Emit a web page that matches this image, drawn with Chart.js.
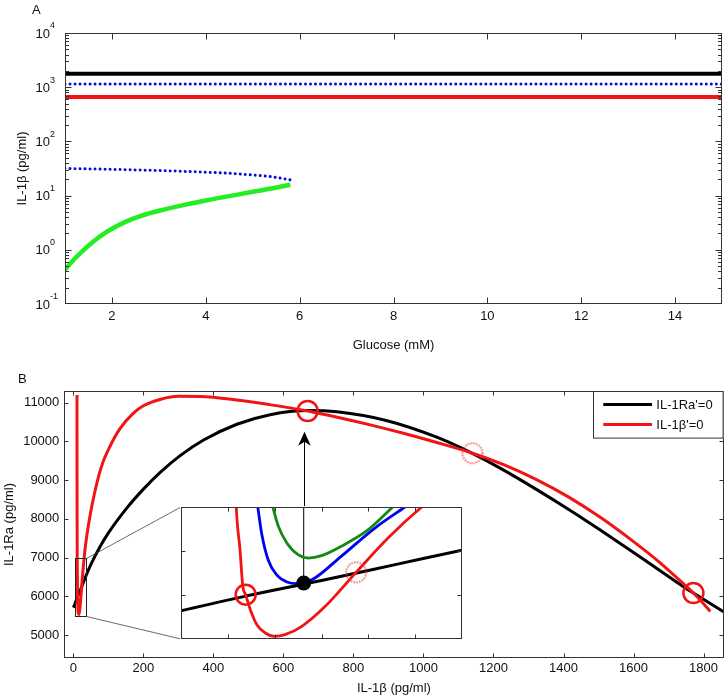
<!DOCTYPE html>
<html>
<head>
<meta charset="utf-8">
<script src="https://cdn.jsdelivr.net/npm/chart.js@4.4.1/dist/chart.umd.min.js"></script>
<style>
html,body{margin:0;padding:0;background:#fff;}
#page{position:relative;width:728px;height:700px;overflow:hidden;background:#fff;font-family:"Liberation Sans",Arial,sans-serif;}
#page canvas{position:absolute;}
.panel-letter{position:absolute;font-size:13px;color:#111;line-height:1;}
</style>
</head>
<body>
<div id="page">
  <canvas id="chartA" width="728" height="365" style="left:0;top:0;"></canvas>
  <canvas id="chartB" width="728" height="335" style="left:0;top:365px;"></canvas>
  <canvas id="chartInset" width="283" height="134" style="left:180px;top:506px;"></canvas>
  <div class="panel-letter" style="left:32px;top:3px;">A</div>
  <div class="panel-letter" style="left:18px;top:372px;">B</div>
</div>
<script>
// ================= DATA =================
// Panel A : IL-1beta steady states vs glucose
const glucoseFull   = [1, 15];
const ilbHighBlack  = [1778, 1778];
const ilbHighBlue   = [1140, 1140];
const ilbHighRed    = [660, 660];
const glucoseBlueLow = [1, 2, 3, 4, 4.5, 5, 5.4, 5.8];
const ilbBlueLow     = [31.6, 30.5, 29, 27, 25.8, 24, 22.3, 19.5];
const glucoseGreen   = [1.0, 1.2, 1.4, 1.6, 1.8, 2.0, 2.3, 2.6, 3.0, 3.5, 4.0, 4.5, 5.0, 5.4, 5.8];
const ilbGreen       = [0.427, 0.676, 1.0, 1.41, 1.9, 2.45, 3.31, 4.17, 5.25, 6.61, 8.13, 9.77, 11.75, 13.5, 15.85];
const glucoseTicks   = [2, 4, 6, 8, 10, 12, 14];
const ilbDecades     = [0.1, 1, 10, 100, 1000, 10000];

// Panel B : nullclines
const raNullX = [0, 5, 12, 20, 28.6, 35, 50, 76, 100, 153, 200, 248, 305, 372, 467, 562, 669, 753, 896, 1038, 1138, 1219, 1320, 1415, 1505, 1619, 1748, 1771, 1857];
const raNullY = [5710, 5822, 5990, 6165, 6362, 6508, 6823, 7278, 7638, 8285, 8769, 9201, 9634, 10036, 10444, 10691, 10798, 10764, 10535, 10109, 9699, 9310, 8775, 8243, 7712, 7017, 6217, 6085, 5600];
const ilbNullX = [10.2, 10.4, 10.6, 10.9, 11.3, 11.6, 11.9, 12.4, 13.1, 14.0, 15.0, 16.1, 17.9, 20.4, 23.7, 27.1, 30.7, 35, 45, 60, 80, 100, 133, 170, 200, 250, 300, 362, 467, 560, 669, 760, 848, 940, 1038, 1140, 1229, 1320, 1415, 1505, 1600, 1676, 1748, 1771, 1800, 1819];
const ilbNullY = [11200, 9000, 8000, 7000, 6515, 6098, 6004, 5833, 5663, 5568, 5530, 5549, 5644, 5871, 6258, 6648, 7000, 7350, 7950, 8650, 9350, 9790, 10330, 10720, 10920, 11090, 11165, 11160, 11070, 10950, 10786, 10613, 10428, 10216, 9971, 9696, 9400, 9027, 8562, 8040, 7413, 6866, 6280, 6085, 5810, 5610];
const stableX   = [669, 1771];
const stableY   = [10786, 6085];
const unstableX = [1140];
const unstableY = [9696];
const ilbTicksB = [0, 200, 400, 600, 800, 1000, 1200, 1400, 1600, 1800];
const raTicksB  = [5000, 6000, 7000, 8000, 9000, 10000, 11000];
const arrowX     = [660];
const arrowFromY = [6333];
const arrowToY   = [10250];

// Inset (zoom of the small box)
const zoomBoxX = [5, 35];
const zoomBoxY = [5500, 7000];
const insetTicksX = [10, 15, 20, 25, 30];
const insetTicksY = [6000, 6500];
const blueX  = [13.2, 13.6, 14.3, 15.2, 16.4, 17.3, 18.1, 19.3, 22.1, 25.7, 28.9];
const blueY  = [7000, 6705, 6401, 6231, 6144, 6129, 6136, 6193, 6439, 6761, 7000];
const greenX = [14.8, 15.4, 16.3, 17.5, 18.6, 20.0, 22.1, 25.0, 27.6];
const greenY = [7000, 6780, 6591, 6458, 6420, 6447, 6553, 6742, 7000];
const insetStableX   = [11.9];
const insetStableY   = [6004];
const insetUnstableX = [23.7];
const insetUnstableY = [6258];
const saddleNodeX = [18.1];
const saddleNodeY = [6136];

// ================= STYLE =================
const FONT = '"Liberation Sans", Arial, Helvetica, sans-serif';
const TXT = '#111';
const AXIS = '#333';
const RED = '#f01414';
const INSET_BOX = {left: 181, top: 507, width: 281, height: 132};
const CANVAS_B_TOP = 365;

function pts(xs, ys) { return xs.map((x, i) => ({x: x, y: ys[i]})); }

function dashedCircle(r) {
  const c = document.createElement('canvas');
  const s = 2 * r + 6;
  c.width = s; c.height = s;
  const g = c.getContext('2d');
  g.strokeStyle = 'rgba(232,60,60,0.8)';
  g.lineWidth = 2;
  g.setLineDash([1.4, 1.4]);
  g.beginPath(); g.arc(s / 2, s / 2, r, 0, Math.PI * 2); g.stroke();
  return c;
}

function drawFrame(chart, cfg) {
  const ctx = chart.ctx, a = chart.chartArea;
  const xs = chart.scales.x, ys = chart.scales.y;
  const L = Math.round(a.left) + 0.5, R = Math.round(a.right) - 0.5;
  const T = Math.round(a.top) + 0.5, B = Math.round(a.bottom) - 0.5;
  ctx.save();
  ctx.strokeStyle = AXIS; ctx.lineWidth = 1;
  ctx.beginPath();
  cfg.xMajor.forEach(v => {
    const p = Math.round(xs.getPixelForValue(v)) + 0.5;
    if (p <= L + 0.5 || p >= R - 0.5) return;
    ctx.moveTo(p, B); ctx.lineTo(p, B - cfg.len);
    ctx.moveTo(p, T); ctx.lineTo(p, T + cfg.len);
  });
  cfg.yMajor.forEach(v => {
    const p = Math.round(ys.getPixelForValue(v)) + 0.5;
    if (p <= T + 0.5 || p >= B - 0.5) return;
    ctx.moveTo(L, p); ctx.lineTo(L + cfg.len, p);
    ctx.moveTo(R, p); ctx.lineTo(R - cfg.len, p);
  });
  (cfg.yMinor || []).forEach(v => {
    const p = Math.round(ys.getPixelForValue(v)) + 0.5;
    if (p <= T + 0.5 || p >= B - 0.5) return;
    ctx.moveTo(L, p); ctx.lineTo(L + cfg.minorLen, p);
    ctx.moveTo(R, p); ctx.lineTo(R - cfg.minorLen, p);
  });
  ctx.stroke();
  ctx.strokeRect(L, T, R - L, B - T);
  ctx.restore();
}

const baseFont = {family: FONT, size: 13};

// ================= PANEL A =================
const logMinor = [];
ilbDecades.slice(0, -1).forEach(d => { for (let m = 2; m <= 9; m++) logMinor.push(m * d); });

const frameA = {
  id: 'frameA',
  afterDraw(chart) {
    drawFrame(chart, {xMajor: glucoseTicks, yMajor: ilbDecades, yMinor: logMinor, len: 6, minorLen: 3.5});
    const ctx = chart.ctx, a = chart.chartArea, y = chart.scales.y;
    ctx.save();
    ctx.fillStyle = TXT; ctx.textBaseline = 'middle';
    ilbDecades.forEach(v => {
      const p = y.getPixelForValue(v);
      const e = Math.round(Math.log10(v));
      ctx.font = '13px ' + FONT; ctx.textAlign = 'right';
      ctx.fillText('10', a.left - 15, p + 1);
      ctx.font = '9px ' + FONT; ctx.textAlign = 'left';
      ctx.fillText(String(e), a.left - 15, p - 7);
    });
    ctx.restore();
  }
};

new Chart(document.getElementById('chartA'), {
  type: 'scatter',
  data: {
    datasets: [
      {data: pts(glucoseFull, ilbHighBlack), showLine: true, borderColor: '#000', borderWidth: 4, pointRadius: 0},
      {data: pts(glucoseFull, ilbHighBlue), showLine: true, borderColor: '#0a0ad0', borderWidth: 3, borderDash: [0.01, 5], borderCapStyle: 'round', pointRadius: 0},
      {data: pts(glucoseFull, ilbHighRed), showLine: true, borderColor: RED, borderWidth: 4, pointRadius: 0},
      {data: pts(glucoseBlueLow, ilbBlueLow), showLine: true, borderColor: '#0a0ad0', borderWidth: 3, borderDash: [0.01, 5], borderCapStyle: 'round', pointRadius: 0, cubicInterpolationMode: 'monotone'},
      {data: pts(glucoseGreen, ilbGreen), showLine: true, borderColor: '#22ee22', borderWidth: 4.5, pointRadius: 0, cubicInterpolationMode: 'monotone'}
    ]
  },
  options: {
    responsive: false, animation: false, devicePixelRatio: 1,
    layout: {padding: {top: 33, right: 6, left: 0, bottom: 0}, autoPadding: false},
    plugins: {legend: {display: false}, tooltip: {enabled: false}},
    scales: {
      x: {
        type: 'linear', min: 1, max: 15,
        afterBuildTicks: s => { s.ticks = glucoseTicks.map(v => ({value: v})); },
        grid: {display: false, drawTicks: false}, border: {display: false},
        ticks: {padding: 5, font: baseFont, color: TXT, maxRotation: 0, autoSkip: false, callback: v => String(v)},
        title: {display: true, text: 'Glucose (mM)', font: baseFont, color: TXT, padding: {top: 0, bottom: 12}},
        afterFit: s => { s.height = 61; }
      },
      y: {
        type: 'logarithmic', min: 0.1, max: 10000,
        afterBuildTicks: s => { s.ticks = ilbDecades.map(v => ({value: v})); },
        grid: {display: false, drawTicks: false}, border: {display: false},
        ticks: {display: false},
        title: {display: true, text: 'IL-1β (pg/ml)', font: baseFont, color: TXT, padding: {top: 14.5, bottom: 0}},
        afterFit: s => { s.width = 65; }
      }
    }
  },
  plugins: [frameA]
});

// ================= PANEL B =================
const frameB = {
  id: 'frameB',
  afterDatasetsDraw(chart) {
    const ctx = chart.ctx, x = chart.scales.x, y = chart.scales.y;
    ctx.save();
    // zoom box
    const bx0 = x.getPixelForValue(zoomBoxX[0]), bx1 = x.getPixelForValue(zoomBoxX[1]);
    const by0 = y.getPixelForValue(zoomBoxY[1]), by1 = y.getPixelForValue(zoomBoxY[0]);
    ctx.strokeStyle = '#222'; ctx.lineWidth = 1;
    ctx.strokeRect(Math.round(bx0) + 0.5, Math.round(by0) + 0.5, Math.round(bx1 - bx0), Math.round(by1 - by0));
    // connector lines to inset
    ctx.strokeStyle = '#444'; ctx.lineWidth = 0.8;
    ctx.beginPath();
    ctx.moveTo(Math.round(bx1) + 0.5, Math.round(by0) + 0.5); ctx.lineTo(INSET_BOX.left, INSET_BOX.top - CANVAS_B_TOP);
    ctx.moveTo(Math.round(bx1) + 0.5, Math.round(by1) + 0.5); ctx.lineTo(INSET_BOX.left, INSET_BOX.top + INSET_BOX.height - CANVAS_B_TOP);
    ctx.stroke();
    // arrow
    const ax = Math.round(x.getPixelForValue(arrowX[0])) + 0.5;
    const tip = y.getPixelForValue(arrowToY[0]);
    const from = y.getPixelForValue(arrowFromY[0]);
    ctx.strokeStyle = '#000'; ctx.lineWidth = 1;
    ctx.beginPath(); ctx.moveTo(ax, from); ctx.lineTo(ax, tip + 8); ctx.stroke();
    ctx.fillStyle = '#000';
    ctx.beginPath();
    ctx.moveTo(ax, tip); ctx.lineTo(ax - 6.3, tip + 14); ctx.lineTo(ax, tip + 10); ctx.lineTo(ax + 6.3, tip + 14);
    ctx.closePath(); ctx.fill();
    ctx.restore();
  },
  afterDraw(chart) {
    drawFrame(chart, {xMajor: ilbTicksB, yMajor: raTicksB, len: 4});
    // legend
    const ctx = chart.ctx, a = chart.chartArea;
    const w = 130.6, h = 47.6;
    const x0 = Math.round(a.right - w), y0 = Math.round(a.top);
    ctx.save();
    ctx.fillStyle = '#fff'; ctx.fillRect(x0, y0, w, h);
    ctx.strokeStyle = AXIS; ctx.lineWidth = 1;
    ctx.strokeRect(x0 + 0.5, y0 + 0.5, w - 1, h - 1);
    const ds = chart.data.datasets;
    [0, 1].forEach((k, i) => {
      const yy = y0 + 13.6 + i * 20;
      ctx.strokeStyle = ds[k].borderColor; ctx.lineWidth = 3;
      ctx.beginPath(); ctx.moveTo(x0 + 10.3, yy); ctx.lineTo(x0 + 59, yy); ctx.stroke();
      ctx.fillStyle = TXT; ctx.font = '13px ' + FONT; ctx.textBaseline = 'middle'; ctx.textAlign = 'left';
      ctx.fillText(ds[k].label, x0 + 63.3, yy + 0.5);
    });
    ctx.restore();
  }
};

const dashedImg = dashedCircle(10);

new Chart(document.getElementById('chartB'), {
  type: 'scatter',
  data: {
    datasets: [
      {label: "IL-1Ra'=0", data: pts(raNullX, raNullY), showLine: true, borderColor: '#000', borderWidth: 3, pointRadius: 0, order: 2, cubicInterpolationMode: 'monotone'},
      {label: "IL-1β'=0", data: pts(ilbNullX, ilbNullY), showLine: true, borderColor: RED, borderWidth: 3, pointRadius: 0, order: 1, cubicInterpolationMode: 'monotone'},
      {label: 'stable', data: pts(stableX, stableY), showLine: false, pointStyle: 'circle', pointRadius: 10, borderColor: RED, borderWidth: 2.5, backgroundColor: 'rgba(0,0,0,0)', order: 0},
      {label: 'unstable', data: pts(unstableX, unstableY), showLine: false, pointStyle: dashedImg, pointRadius: 10, order: 0}
    ]
  },
  options: {
    responsive: false, animation: false, devicePixelRatio: 1,
    layout: {padding: {top: 25.7, right: 4.5, left: 0, bottom: 0}, autoPadding: false},
    plugins: {legend: {display: false}, tooltip: {enabled: false}},
    scales: {
      x: {
        type: 'linear', min: -26, max: 1857,
        afterBuildTicks: s => { s.ticks = ilbTicksB.map(v => ({value: v})); },
        grid: {display: false, drawTicks: false}, border: {display: false},
        ticks: {padding: 2, font: baseFont, color: TXT, maxRotation: 0, autoSkip: false, callback: v => String(v)},
        title: {display: true, text: 'IL-1β (pg/ml)', font: baseFont, color: TXT, padding: {top: 0, bottom: 4}},
        afterFit: s => { s.height = 41.7; }
      },
      y: {
        type: 'linear', min: 4400, max: 11310,
        afterBuildTicks: s => { s.ticks = raTicksB.map(v => ({value: v})); },
        grid: {display: false, drawTicks: false}, border: {display: false},
        ticks: {padding: 5, font: baseFont, color: TXT, autoSkip: false, callback: v => String(v)},
        title: {display: true, text: 'IL-1Ra (pg/ml)', font: baseFont, color: TXT, padding: {top: 1.2, bottom: 0}},
        afterFit: s => { s.width = 64.3; }
      }
    }
  },
  plugins: [frameB]
});

// ================= INSET =================
const insetPlugin = {
  id: 'insetFrame',
  beforeDraw(chart) {
    const ctx = chart.ctx;
    ctx.save(); ctx.fillStyle = '#fff'; ctx.fillRect(0, 0, chart.width, chart.height); ctx.restore();
  },
  afterDraw(chart) {
    drawFrame(chart, {xMajor: insetTicksX, yMajor: insetTicksY, len: 4});
  }
};

new Chart(document.getElementById('chartInset'), {
  type: 'scatter',
  data: {
    datasets: [
      {data: pts([saddleNodeX[0], saddleNodeX[0]], [saddleNodeY[0], zoomBoxY[1]]), showLine: true, borderColor: '#000', borderWidth: 1, pointRadius: 0, order: 6, clip: 0},
      {data: pts(greenX, greenY), showLine: true, borderColor: '#128a12', borderWidth: 2.8, pointRadius: 0, order: 5, clip: 0, cubicInterpolationMode: 'monotone'},
      {data: pts(blueX, blueY), showLine: true, borderColor: '#0000f0', borderWidth: 2.8, pointRadius: 0, order: 4, clip: 0, cubicInterpolationMode: 'monotone'},
      {data: pts(raNullX, raNullY), showLine: true, borderColor: '#000', borderWidth: 3, pointRadius: 0, order: 3, clip: 0, cubicInterpolationMode: 'monotone'},
      {data: pts(ilbNullX, ilbNullY), showLine: true, borderColor: RED, borderWidth: 2.8, pointRadius: 0, order: 2, clip: 0, cubicInterpolationMode: 'monotone'},
      {data: pts(insetStableX, insetStableY), showLine: false, pointStyle: 'circle', pointRadius: 10, borderColor: RED, borderWidth: 2.5, backgroundColor: 'rgba(0,0,0,0)', order: 1},
      {data: pts(insetUnstableX, insetUnstableY), showLine: false, pointStyle: dashedImg, pointRadius: 10, order: 1},
      {data: pts(saddleNodeX, saddleNodeY), showLine: false, pointStyle: 'circle', pointRadius: 7.5, borderWidth: 0, backgroundColor: '#000', order: 0}
    ]
  },
  options: {
    responsive: false, animation: false, devicePixelRatio: 1,
    layout: {padding: 1, autoPadding: false},
    plugins: {legend: {display: false}, tooltip: {enabled: false}},
    scales: {
      x: {type: 'linear', display: false, min: zoomBoxX[0], max: zoomBoxX[1]},
      y: {type: 'linear', display: false, min: zoomBoxY[0], max: zoomBoxY[1]}
    }
  },
  plugins: [insetPlugin]
});
</script>
</body>
</html>
